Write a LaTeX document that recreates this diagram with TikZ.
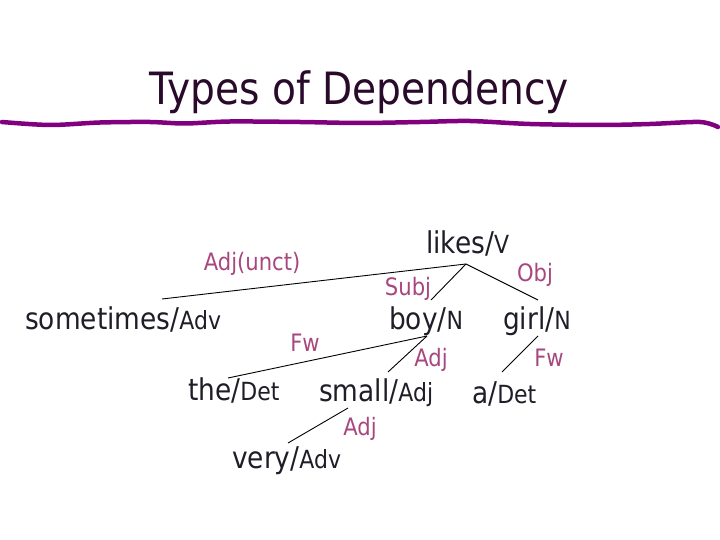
\documentclass[tikz,border=0pt]{standalone}
\usepackage{fontspec}
\setmainfont{DejaVu Sans}[FakeStretch=0.88]
\usetikzlibrary{calc}
\definecolor{titlepurple}{HTML}{2A0A2A}
\definecolor{rulepurple}{HTML}{800080}
\definecolor{relpink}{HTML}{A8467E}
\definecolor{wordgray}{HTML}{1E1E28}
\newcommand{\wordpos}[2]{{\fontsize{30}{36}\selectfont #1/}{\fontsize{25}{29}\selectfont #2}}
\tikzset{
    word/.style = {anchor=base west, inner sep=0pt, text=wordgray},
    rel/.style = {anchor=base, inner sep=0pt, text=relpink, font=\fontsize{24}{28}\selectfont},
    dep/.style = {line width=0.9pt, draw=black},
    titletext/.style = {anchor=base, inner sep=0pt, text=titlepurple, font=\fontsize{44.5}{50}\selectfont},
    titlerule/.style = {line width=4.5pt, draw=rulepurple, line cap=round}
}
\begin{document}
\begin{tikzpicture}[x=1pt,y=-1pt]
  \useasboundingbox (0,0) rectangle (720,540);
  % title and the wavy rule under it
  \node[titletext] (title) at (359,105) {Types of Dependency};
  \draw[titlerule] plot[smooth] coordinates {(2,122) (50,125) (100,122.5) (150,122) (185,123.5)
    (230,121.5) (300,122) (360,123) (420,122) (470,121) (530,124) (600,125) (650,124) (700,122) (718,127)};

  % words
  \node[word] (likes) at (426,254) {\wordpos{likes}{V}};
  \node[word] (sometimes) at (25,329) {\wordpos{sometimes}{Adv}};
  \node[word] (boy) at (389,329) {\wordpos{boy}{N}};
  \node[word] (girl) at (503,329) {\wordpos{girl}{N}};
  \node[word] (the) at (188,400) {\wordpos{the}{Det}};
  \node[word] (small) at (319,401) {\wordpos{small}{Adj}};
  \node[word] (a) at (472,403) {\wordpos{a}{Det}};
  \node[word] (very) at (232,468) {\wordpos{very}{Adv}};

  % dependency links
  \draw[dep] ($(likes.base west)+(40,10)$) -- ($(sometimes.base west)+(137,-30)$);
  \draw[dep] ($(likes.base west)+(40,10)$) -- ($(boy.base west)+(42,-29)$);
  \draw[dep] ($(likes.base west)+(40,10)$) -- ($(girl.base west)+(35,-29)$);
  \draw[dep] ($(boy.base west)+(38,7)$) -- ($(the.base west)+(40,-22)$);
  \draw[dep] ($(boy.base west)+(38,7)$) -- ($(small.base west)+(69,-29)$);
  \draw[dep] ($(girl.base west)+(35,7)$) -- ($(a.base west)+(30,-31)$);
  \draw[dep] ($(small.base west)+(29,7)$) -- ($(very.base west)+(56,-25)$);

  % relation labels
  \node[rel] (adjunct) at (252,270) {Adj(unct)};
  \node[rel] (subj) at (408,295) {Subj};
  \node[rel] (obj) at (535,281) {Obj};
  \node[rel] (fwthe) at (305,351) {Fw};
  \node[rel] (adjsmall) at (431,366) {Adj};
  \node[rel] (fwa) at (549,366) {Fw};
  \node[rel] (adjvery) at (360,435) {Adj};
\end{tikzpicture}
\end{document}
